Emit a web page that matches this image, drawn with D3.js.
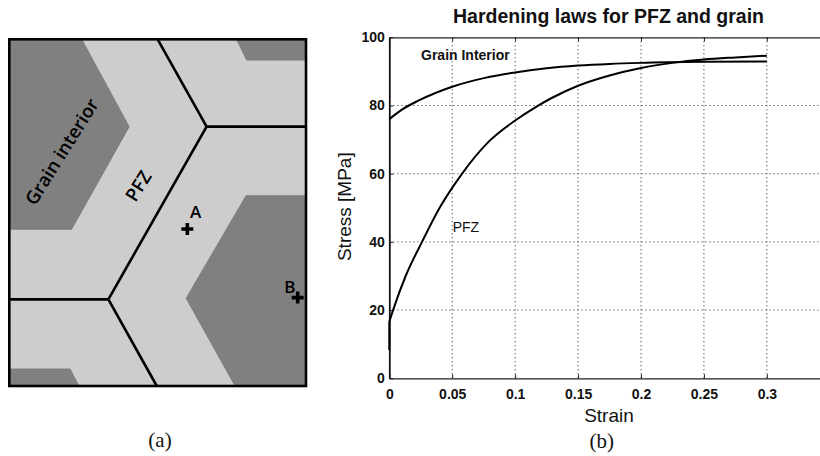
<!DOCTYPE html>
<html>
<head>
<meta charset="utf-8">
<script src="https://cdn.jsdelivr.net/npm/d3@7/dist/d3.min.js"></script>
<style>
  html, body { margin: 0; padding: 0; background: #ffffff; }
  svg { display: block; }
</style>
</head>
<body>
<svg id="fig" width="820" height="456"></svg>
<script>
// ---------------- DATA ----------------
// Panel (b): hardening curves
const pfzStrain   = [0, 0, 0.003, 0.013, 0.026, 0.040, 0.057, 0.079, 0.100, 0.117, 0.129, 0.150, 0.175, 0.200, 0.225, 0.250, 0.275, 0.300];
const pfzStress   = [8.3, 16.6, 20.0, 30.0, 40.0, 50.0, 59.6, 69.4, 75.6, 79.7, 82.2, 85.8, 88.8, 91.0, 92.5, 93.5, 94.1, 94.6];
const grainStrain = [0, 0.010, 0.023, 0.050, 0.076, 0.100, 0.125, 0.150, 0.175, 0.200, 0.250, 0.300];
const grainStress = [76.0, 78.8, 81.4, 85.5, 88.1, 89.7, 90.9, 91.7, 92.2, 92.5, 92.8, 92.9];
const xTicks      = [0, 0.05, 0.1, 0.15, 0.2, 0.25, 0.3];
const xTickLabels = ["0", "0.05", "0.1", "0.15", "0.2", "0.25", "0.3"];
const yTicks      = [0, 20, 40, 60, 80, 100];
const yTickLabels = ["0", "20", "40", "60", "80", "100"];
const seriesNames = ["Grain Interior", "PFZ"];

// Panel (a): microstructure schematic, in fractions of the box
const grainRegions = [
  [[0, 0], [0.244, 0], [0.404, 0.252], [0.210, 0.548], [0, 0.548]],
  [[0.766, 0], [1, 0], [1, 0.060], [0.800, 0.060]],
  [[0.798, 0.451], [1, 0.451], [1, 1], [0.761, 1], [0.596, 0.747]],
  [[0, 0.951], [0.205, 0.951], [0.235, 1], [0, 1]]
];
const boundaries = [
  [[0.500, 0], [0.665, 0.252]],
  [[0.665, 0.252], [1, 0.252]],
  [[0.665, 0.252], [0.334, 0.750]],
  [[0.334, 0.750], [0, 0.750]],
  [[0.334, 0.750], [0.497, 1]]
];
const pointNames = ["A", "B"];
const pointPos   = [[0.600, 0.547], [0.972, 0.745]];

// ---------------- DRAW ----------------
const svg = d3.select("#fig");
svg.append("rect").attr("width", 820).attr("height", 456).attr("fill", "#ffffff");

const SANS = "'Liberation Sans', Arial, Helvetica, sans-serif";

// ===== Panel (a) =====
const ax = d3.scaleLinear().domain([0, 1]).range([9.3, 306]);
const ay = d3.scaleLinear().domain([0, 1]).range([39.3, 386]);
const ga = svg.append("g");

ga.append("rect")
  .attr("x", ax(0)).attr("y", ay(0))
  .attr("width", ax(1) - ax(0)).attr("height", ay(1) - ay(0))
  .attr("fill", "#cdcdcd");

const polyLine = d3.line().x(d => ax(d[0])).y(d => ay(d[1]));
ga.selectAll("path.grain").data(grainRegions).join("path")
  .attr("class", "grain")
  .attr("d", d => polyLine(d) + "Z")
  .attr("fill", "#808080")
  .attr("stroke", "#767676")
  .attr("stroke-width", 0.8);

ga.selectAll("path.gb").data(boundaries).join("path")
  .attr("class", "gb")
  .attr("d", d => polyLine(d))
  .attr("fill", "none")
  .attr("stroke", "#000")
  .attr("stroke-width", 2.6);

ga.append("rect")
  .attr("x", ax(0)).attr("y", ay(0))
  .attr("width", ax(1) - ax(0)).attr("height", ay(1) - ay(0))
  .attr("fill", "none").attr("stroke", "#000").attr("stroke-width", 2.6);

// rotated region labels
ga.append("text")
  .attr("transform", `translate(${ax(0.177)},${ay(0.324)}) rotate(-58)`)
  .attr("text-anchor", "middle").attr("dy", "0.35em")
  .attr("font-family", "'Open Sans', sans-serif").attr("font-size", 18.5)
  .attr("font-weight", 600).attr("fill", "#000").text("Grain interior");
ga.append("text")
  .attr("transform", `translate(${ax(0.435)},${ay(0.423)}) rotate(-58)`)
  .attr("text-anchor", "middle").attr("dy", "0.35em")
  .attr("font-family", "'Open Sans', sans-serif").attr("font-size", 18.5)
  .attr("font-weight", 600).attr("fill", "#000").text("PFZ");

// points A and B
const crossArm = 6, crossW = 3.6;
pointPos.forEach((p, i) => {
  const cx = ax(p[0]), cy = ay(p[1]);
  ga.append("path")
    .attr("d", `M${cx - crossArm},${cy}H${cx + crossArm}M${cx},${cy - crossArm}V${cy + crossArm}`)
    .attr("stroke", "#000").attr("stroke-width", crossW);
});
ga.append("text").attr("x", ax(0.628)).attr("y", ay(0.497)).attr("dy", "0.35em")
  .attr("text-anchor", "middle").attr("font-family", "'Open Sans', sans-serif")
  .attr("font-weight", 600).attr("font-size", 17).attr("fill", "#000").text(pointNames[0]);
ga.append("text").attr("x", ax(0.946)).attr("y", ay(0.714)).attr("dy", "0.35em")
  .attr("text-anchor", "middle").attr("font-family", "'Open Sans', sans-serif")
  .attr("font-weight", 600).attr("font-size", 17).attr("fill", "#000").text(pointNames[1]);

svg.append("text").attr("x", 160).attr("y", 447)
  .attr("text-anchor", "middle").attr("font-family", "'Liberation Serif', 'Times New Roman', serif")
  .attr("font-size", 21).attr("fill", "#111").text("(a)");

// ===== Panel (b) =====
const x = d3.scaleLinear().domain([0, 0.35]).range([389.3, 829.8]);
const y = d3.scaleLinear().domain([0, 100]).range([378.3, 37.3]);
const gb = svg.append("g");

// dotted grid
gb.selectAll("line.vg").data(xTicks.filter(t => t > 0).concat([0.35])).join("line")
  .attr("class", "vg")
  .attr("x1", d => x(d)).attr("x2", d => x(d))
  .attr("y1", y(0)).attr("y2", y(100))
  .attr("stroke", "#555").attr("stroke-width", 1).attr("stroke-dasharray", "1.3,2.7");
gb.selectAll("line.hg").data(yTicks.filter(t => t > 0 && t < 100)).join("line")
  .attr("class", "hg")
  .attr("x1", x(0)).attr("x2", x(0.35))
  .attr("y1", d => y(d)).attr("y2", d => y(d))
  .attr("stroke", "#555").attr("stroke-width", 1).attr("stroke-dasharray", "1.3,2.7");

// axes
const xAxis = d3.axisBottom(x).tickValues(xTicks)
  .tickFormat((d, i) => xTickLabels[i]).tickSizeInner(-4).tickSizeOuter(0).tickPadding(11);
const gx = gb.append("g").attr("transform", `translate(0,${y(0)})`).call(xAxis);
gx.select(".domain").attr("stroke", "#222").attr("stroke-width", 1.3);
gx.selectAll(".tick line").attr("stroke", "#222");
gx.selectAll("text").attr("font-family", SANS).attr("font-size", 14)
  .attr("font-weight", "bold").attr("fill", "#111");

const xTop = d3.axisTop(x).tickValues(xTicks).tickFormat("").tickSizeInner(-4).tickSizeOuter(0);
const gxt = gb.append("g").attr("transform", `translate(0,${y(100)})`).call(xTop);
gxt.select(".domain").attr("stroke", "#222").attr("stroke-width", 1.3);
gxt.selectAll(".tick line").attr("stroke", "#222");

const yAxis = d3.axisLeft(y).tickValues(yTicks)
  .tickFormat((d, i) => yTickLabels[i]).tickSizeInner(-4).tickSizeOuter(0).tickPadding(4.5);
const gy = gb.append("g").attr("transform", `translate(${x(0)},0)`).call(yAxis);
gy.select(".domain").attr("stroke", "#111").attr("stroke-width", 1.8);
gy.selectAll(".tick line").attr("stroke", "#222");
gy.selectAll("text").attr("font-family", SANS).attr("font-size", 14)
  .attr("font-weight", "bold").attr("fill", "#111");

// curves
const pfz = pfzStrain.map((s, i) => [s, pfzStress[i]]);
const grain = grainStrain.map((s, i) => [s, grainStress[i]]);
const lineLin = d3.line().x(d => x(d[0])).y(d => y(d[1]));
const lineSmooth = d3.line().x(d => x(d[0])).y(d => y(d[1])).curve(d3.curveMonotoneX);

gb.append("path").attr("d", lineSmooth(grain))
  .attr("fill", "none").attr("stroke", "#000").attr("stroke-width", 2);
gb.append("path").attr("d", lineLin(pfz.slice(0, 2)))
  .attr("fill", "none").attr("stroke", "#000").attr("stroke-width", 2);
gb.append("path").attr("d", lineSmooth(pfz.slice(1)))
  .attr("fill", "none").attr("stroke", "#000").attr("stroke-width", 2);

// curve labels
gb.append("text").attr("x", x(0.0252)).attr("y", y(93.3))
  .attr("font-family", SANS).attr("font-size", 14).attr("font-weight", "bold")
  .attr("fill", "#111").text(seriesNames[0]);
gb.append("text").attr("x", x(0.0504)).attr("y", y(43))
  .attr("font-family", SANS).attr("font-size", 14)
  .attr("fill", "#111").text(seriesNames[1]);

// title and axis labels
svg.append("text").attr("x", 608.5).attr("y", 23).attr("text-anchor", "middle")
  .attr("font-family", SANS).attr("font-size", 19.5).attr("font-weight", "bold")
  .attr("fill", "#111").text("Hardening laws for PFZ and grain");
svg.append("text").attr("x", 609).attr("y", 422).attr("text-anchor", "middle")
  .attr("font-family", SANS).attr("font-size", 19)
  .attr("fill", "#111").text("Strain");
svg.append("text").attr("transform", "translate(351,206.7) rotate(-90)")
  .attr("text-anchor", "middle")
  .attr("font-family", SANS).attr("font-size", 19)
  .attr("fill", "#111").text("Stress [MPa]");

svg.append("text").attr("x", 601.7).attr("y", 448)
  .attr("text-anchor", "middle").attr("font-family", "'Liberation Serif', 'Times New Roman', serif")
  .attr("font-size", 21).attr("fill", "#111").text("(b)");
</script>
</body>
</html>
